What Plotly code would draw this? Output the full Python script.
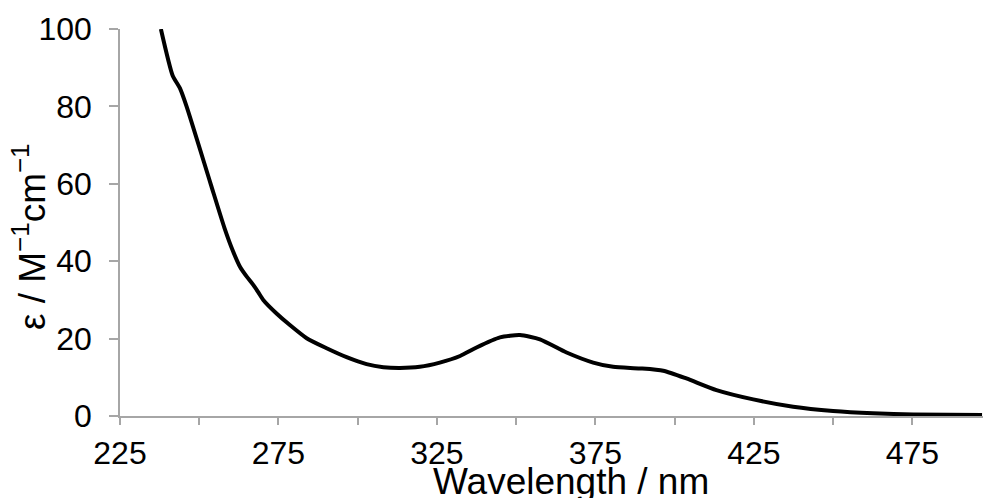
import plotly.graph_objects as go

wavelength = [237.9, 241.6, 243.9, 246.0, 253.6, 258.0, 260.7, 262.9, 265.0, 267.1, 268.6, 270.2,
              274.4, 278.6, 283.9, 290.2, 296.5, 302.8, 308.1, 313.3, 319.6, 325.9,
              332.3, 337.5, 344.9, 351.2, 357.5, 365.9, 374.3, 380.6, 389.0, 396.4,
              403.7, 413.2, 424.8, 437.4, 450.0, 462.6, 475.3, 497.0]
epsilon = [100.0, 88.0, 84.7, 80.0, 60.0, 48.5, 42.5, 38.5, 36.0, 33.8, 32.0, 30.0,
           26.5, 23.5, 20.1, 17.5, 15.2, 13.4, 12.6, 12.4, 12.7, 13.8,
           15.5, 17.7, 20.3, 20.9, 19.8, 16.4, 13.8, 12.7, 12.3, 11.7,
           9.7, 6.7, 4.3, 2.4, 1.3, 0.7, 0.4, 0.25]

x_tickvals = [225, 250, 275, 300, 325, 350, 375, 400, 425, 450, 475]
x_ticktext = ["225", "", "275", "", "325", "", "375", "", "425", "", "475"]
y_tickvals = [0, 20, 40, 60, 80, 100]

x_title = "Wavelength / nm"
y_title = "ε / M<sup>−1</sup>cm<sup>−1</sup>"

font_family = "Liberation Sans, Arial, sans-serif"
axis_color = "#a6a6a6"

fig = go.Figure()
fig.add_trace(go.Scatter(
    x=wavelength, y=epsilon, mode="lines",
    line=dict(color="black", width=4, shape="spline", smoothing=0.6),
    showlegend=False, hoverinfo="skip",
))

fig.update_layout(
    width=983, height=498,
    margin=dict(l=120, r=0, t=29, b=82),
    paper_bgcolor="white", plot_bgcolor="white",
    font=dict(family=font_family, color="black", size=32),
    xaxis=dict(
        range=[225, 497.3], showgrid=False, zeroline=False, automargin=False,
        showline=True, linecolor=axis_color, linewidth=1.5,
        tickmode="array", tickvals=x_tickvals, ticktext=x_ticktext,
        ticks="outside", ticklen=7, tickcolor=axis_color, tickwidth=1.5,
        tickfont=dict(size=32, color="black"), ticklabelstandoff=1,
    ),
    yaxis=dict(
        range=[0, 100], showgrid=False, zeroline=False, automargin=False,
        showline=True, linecolor=axis_color, linewidth=1.5,
        tickmode="array", tickvals=y_tickvals,
        ticks="outside", ticklen=9, tickcolor=axis_color, tickwidth=1.5,
        tickfont=dict(size=32, color="black"), ticklabelstandoff=11,
    ),
    annotations=[
        dict(text=x_title, xref="paper", yref="paper", x=0.5226, y=-0.168,
             xanchor="center", yanchor="middle", showarrow=False,
             font=dict(size=37, family=font_family, color="black")),
        dict(text=y_title, xref="paper", yref="paper", x=-0.1054, y=0.4625,
             xanchor="center", yanchor="middle", showarrow=False, textangle=-90,
             font=dict(size=37, family=font_family, color="black")),
    ],
)

fig.write_html(
    "out.html",
    config={"displayModeBar": False},
    post_script="document.body.style.margin='0';document.body.style.padding='0';document.body.style.overflow='hidden';",
)
